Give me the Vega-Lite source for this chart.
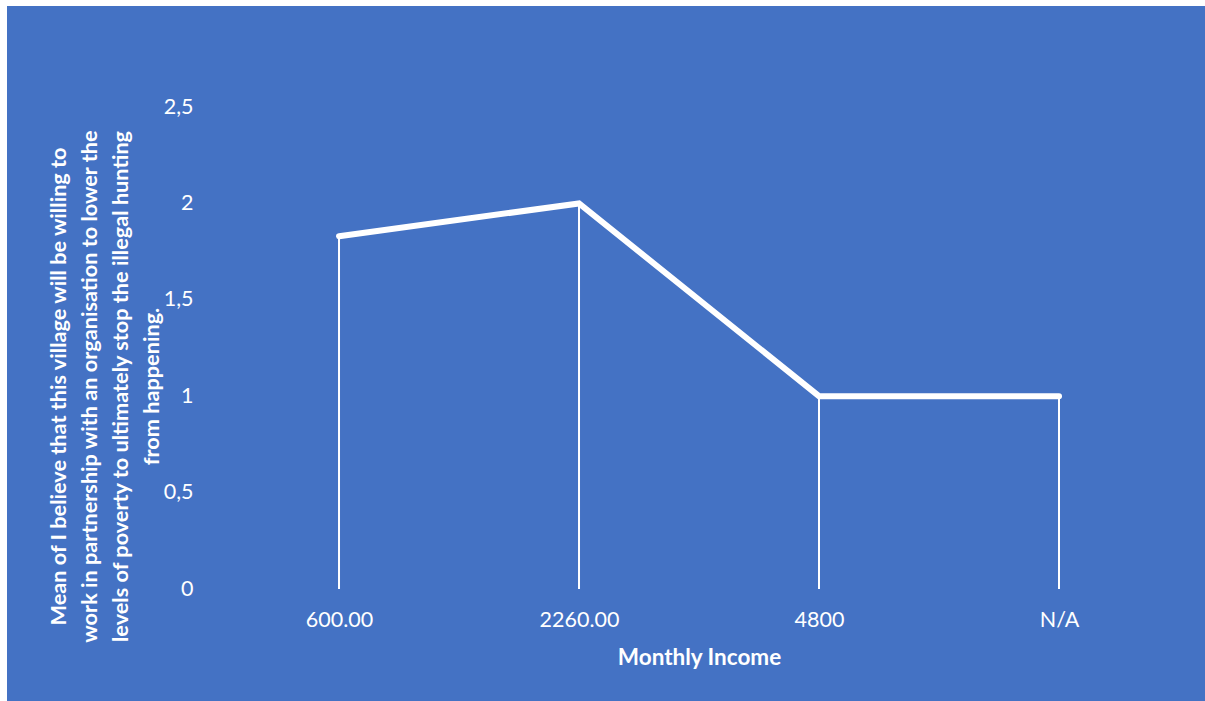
{
  "$schema": "https://vega.github.io/schema/vega-lite/v6.json",
  "width": 1198,
  "height": 695,
  "autosize": {"type": "none"},
  "padding": {"left": 7, "top": 6, "right": 0, "bottom": 0},
  "background": "white",
  "config": {
    "view": {"stroke": null, "fill": "#4472C4"},
    "font": "Lato",
    "axis": {"labelFont": "Lato", "titleFont": "Lato", "labelColor": "white", "titleColor": "white", "labelFontSize": 21.5, "titleFontSize": 22.5, "titleFontWeight": "bold", "domain": false, "ticks": false, "grid": false}
  },
  "data": {
    "values": [
      {"income": "600.00", "mean": 1.83},
      {"income": "2260.00", "mean": 2.0},
      {"income": "4800", "mean": 1.0},
      {"income": "N/A", "mean": 1.0}
    ]
  },
  "encoding": {
    "x": {
      "field": "income", "type": "ordinal", "sort": null,
      "scale": {"type": "point", "padding": 0.9958, "align": 0.6946},
      "axis": {"title": "Monthly Income", "labelAngle": 0, "offset": -112, "labelPadding": 20, "titlePadding": 16, "titleX": 692}
    },
    "y": {
      "field": "mean", "type": "quantitative",
      "scale": {"domain": [-0.5809, 3.0239], "nice": false, "zero": false},
      "axis": {
        "values": [0, 0.5, 1, 1.5, 2, 2.5],
        "labelExpr": "replace(format(datum.value, '~g'), '.', ',')",
        "offset": -212,
        "labelPadding": 26,
        "titlePadding": 0,
        "titleFontSize": 21.7,
        "titleLineHeight": 30.8,
        "titleY": 380,
        "title": [
          "Mean of I believe that this village will be willing to",
          "work in partnership with an organisation to lower the",
          "levels of poverty to ultimately stop the illegal hunting",
          "from happening."
        ]
      }
    }
  },
  "layer": [
    {
      "mark": {"type": "rule", "color": "white", "strokeWidth": 2},
      "encoding": {"y2": {"datum": 0}}
    },
    {
      "mark": {"type": "line", "color": "white", "strokeWidth": 6, "strokeCap": "round", "strokeJoin": "miter"},
      "encoding": {}
    }
  ]
}
